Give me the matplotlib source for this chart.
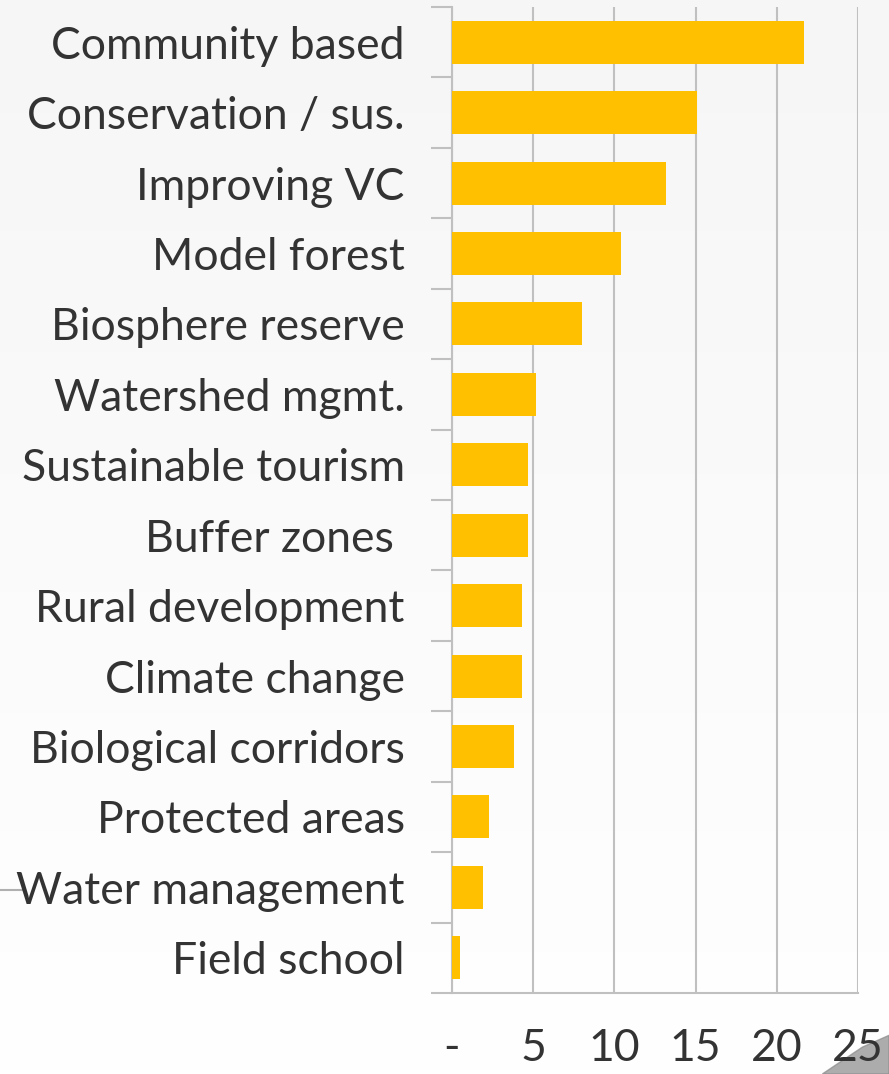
import matplotlib.pyplot as plt
import numpy as np

categories = ["Community based", "Conservation / sus.", "Improving VC", "Model forest",
              "Biosphere reserve", "Watershed mgmt.", "Sustainable tourism", "Buffer zones ",
              "Rural development", "Climate change", "Biological corridors", "Protected areas",
              "Water management", "Field school"]
values = [21.7, 15.1, 13.2, 10.4, 8.0, 5.2, 4.7, 4.7, 4.3, 4.3, 3.8, 2.3, 1.9, 0.5]
xticks = [0, 5, 10, 15, 20, 25]
xtick_labels = ["-", "5", "10", "15", "20", "25"]

plt.rcParams['font.family'] = ['Lato', 'DejaVu Sans']

fig = plt.figure(figsize=(8.89, 10.74), dpi=100)

# soft background gradient
bg = fig.add_axes([0, 0, 1, 1], zorder=-10)
grad = np.linspace(0.965, 1.0, 256).reshape(-1, 1)
bg.imshow(np.dstack([grad, grad, grad]), aspect="auto", extent=[0, 1, 0, 1])
bg.plot([0, 0.028], [0.171, 0.171], color="#b0b0b0", lw=1.5)
bg.fill([0.925, 0.97, 1.0, 1.0], [0.0, 0.025, 0.036, 0.0], color="#8a8a8a", alpha=0.7)
bg.set_xlim(0, 1)
bg.set_ylim(0, 1)
bg.axis("off")

ax = fig.add_axes([452 / 889, 1 - 993 / 1074, (858 - 452) / 889, (993 - 7) / 1074])
ax.patch.set_alpha(0)

y = np.arange(len(categories))
ax.barh(y, values, height=0.61, color="#FFC000", zorder=3)
ax.set_ylim(len(categories) - 0.5, -0.5)
ax.set_xlim(0, 25)

ax.set_xticks(xticks)
ax.set_xticklabels(xtick_labels)
ax.grid(axis="x", color="#c0c0c0", lw=1.5, zorder=0)

# category boundaries as tick marks, labels in the middle
ax.set_yticks(np.arange(-0.5, len(categories), 1))
ax.set_yticklabels([])
ax.set_yticks(y, minor=True)
ax.set_yticklabels(categories, minor=True)
ax.tick_params(axis="y", which="major", length=15, width=1.5, color="#c0c0c0")
ax.tick_params(axis="y", which="minor", length=0, pad=34, labelsize=32, labelcolor="#333333")
ax.tick_params(axis="x", length=0, pad=25, labelsize=32, labelcolor="#333333")

for side in ["top", "right"]:
    ax.spines[side].set_visible(False)
ax.spines["left"].set_color("#c0c0c0")
ax.spines["left"].set_linewidth(1.5)
ax.spines["bottom"].set_color("#c0c0c0")
ax.spines["bottom"].set_linewidth(1.5)

fig.savefig("out.png", dpi=100)
